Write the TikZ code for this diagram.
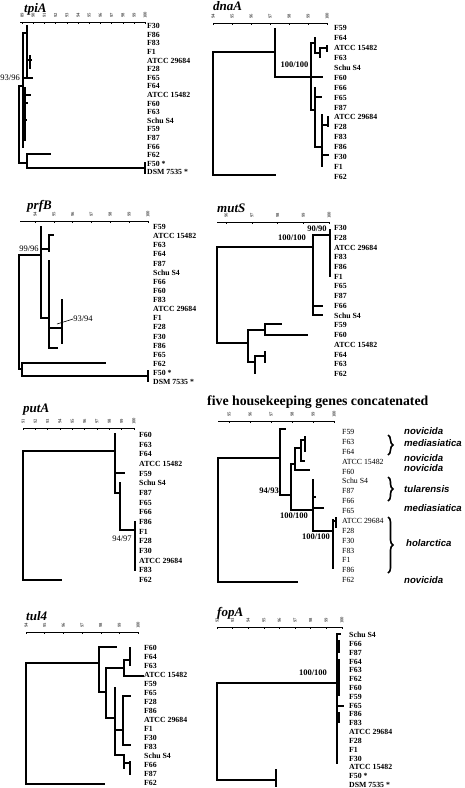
\documentclass[tikz,border=0pt]{standalone}
\usepackage{fontspec}
\setmainfont{Liberation Serif}
\newfontfamily\sansbi{Liberation Sans}
\usetikzlibrary{decorations.pathreplacing}
\tikzset{
 br/.style={line width=1.6pt, line cap=rect},
 pointer/.style={line width=0.6pt},
 leaf/.style={anchor=west, inner sep=0pt, text height=5.2pt, text depth=0pt, font=\fontsize{7.8}{8}\selectfont\bfseries},
 leafr/.style={anchor=west, inner sep=0pt, text height=5.2pt, text depth=0pt, font=\fontsize{7.8}{8}\selectfont},
 supp/.style={inner sep=0pt, font=\fontsize{8.5}{9}\selectfont},
 suppb/.style={inner sep=0pt, font=\fontsize{8.5}{9}\selectfont\bfseries},
 gtitle/.style={anchor=base west, inner sep=0pt, font=\fontsize{13}{14}\selectfont\bfseries\itshape},
 ctitle/.style={anchor=base west, inner sep=0pt, font=\fontsize{13.8}{14}\selectfont\bfseries},
 spec/.style={anchor=west, inner sep=0pt, text height=6.6pt, text depth=0pt, font=\fontsize{9.6}{10}\selectfont\sansbi\bfseries\itshape},
 axl/.style={line width=0.35pt},
 tlab/.style={rotate=90, inner sep=0pt, font=\fontsize{4.6}{5}\selectfont},
 brc/.style={decorate, decoration={brace, amplitude=5pt}, line width=1.6pt},
}
% #1 line start, #2 first label x, #3 step, #4 intervals, #5 y, #6 first value, #7 subdivisions
\newcommand\treeaxis[7]{%
  \draw[axl] (#1,#5) -- ({#2+#3*#4},#5);
  \foreach \i in {0,...,#4}{
    \pgfmathsetmacro\axx{#2+#3*\i}
    \pgfmathtruncatemacro\axv{#6+\i}
    \node[tlab] at (\axx,#5-6.5) {\axv};
    \draw[axl] (\axx,#5) -- (\axx,#5+2);
  }
  \pgfmathtruncatemacro\axn{#4*#7}
  \foreach \j in {0,...,\axn}{
    \pgfmathsetmacro\axx{#2+#3*\j/#7}
    \draw[axl] (\axx,#5) -- (\axx,#5+1.2);
  }
}
% #1 prefix, #2 style, #3 x, #4 y0, #5 dy, #6 list
\newcommand\leafset[6]{%
  \foreach \t [count=\i from 0] in {#6}
    \node[#2] (#1\i) at (#3,{#4+#5*\i}) {\t};
}
\begin{document}
\begin{tikzpicture}[x=1pt,y=-1pt]
\useasboundingbox (0,0) rectangle (464,788);

% ---------------- tpiA
\node[gtitle] (ttpi) at (24,12) {tpiA};
\treeaxis{20}{22}{11.2}{11}{22}{89}{5}
\leafset{tpi}{leaf}{147}{26}{8.6}{F30,F86,F83,F1,ATCC 29684,F28,F65,F64,ATCC 15482,F60,F63,Schu S4,F59,F87,F66,F62,F50 *,DSM 7535 *}
\draw[br] (19,86)--(19,163) (19,86)--(23,86) (23,33)--(23,147) (23,33)--(27,33) (27,26)--(27,78) (23,78)--(32,78)
 (27,60)--(31,60) (30,56)--(30,68) (25,88)--(25,140) (25,95)--(30,95) (24,103)--(27,103) (24,120)--(26,120)
 (19,163)--(27,163) (27,154)--(27,168) (27,154)--(50,154) (27,168)--(145,168) (145,163)--(145,173);
\node[supp, anchor=east] (stpi) at (20,78) {93/96};

% ---------------- dnaA
\node[gtitle] (tdna) at (213,10) {dnaA};
\treeaxis{213}{213}{19}{6}{23}{94}{10}
\leafset{dna}{leaf}{334}{28}{9.93}{F59,F64,ATCC 15482,F63,Schu S4,F60,F66,F65,F87,ATCC 29684,F28,F83,F86,F30,F1,F62}
\draw[br] (213,52)--(213,175) (213,52)--(275,52) (213,175)--(275,175)
 (275,29)--(275,77) (275,77)--(311,77)
 (311,43)--(311,110) (311,43)--(315,43) (315,38)--(315,53) (315,53)--(320,53) (320,49)--(320,57) (320,48)--(327,48) (327,46)--(327,51)
 (311,77)--(322,77)
 (311,110)--(315,110) (315,88)--(315,147) (315,97)--(321,97) (315,147)--(322,147) (322,115)--(322,166) (322,125)--(328,125) (328,117)--(328,126) (322,155)--(328,155);
\node[suppb] (sdna) at (294.5,65) {100/100};

% ---------------- prfB
\node[gtitle] (tprf) at (27,209) {prfB};
\treeaxis{20}{35}{18.8}{6}{221}{94}{10}
\leafset{prf}{leaf}{153}{227}{9.12}{F59,ATCC 15482,F63,F64,F87,Schu S4,F66,F60,F83,ATCC 29684,F1,F28,F30,F86,F65,F62,F50 *,DSM 7535 *}
\draw[br] (19,255)--(19,369) (19,255)--(41,255) (41,227)--(41,318) (41,249)--(49,249) (49,235)--(49,251) (49,235)--(53,235)
 (41,318)--(49,318) (49,261)--(49,348) (49,328)--(62,328) (62,300)--(62,343) (49,348)--(57,348)
 (19,369)--(22,369) (22,363)--(22,376) (22,363)--(105,363) (22,376)--(148,376) (148,371)--(148,381);
\node[supp, anchor=south] (sprf1) at (29,252) {99/96};
\node[supp] (sprf2) at (83,319) {93/94};
\coordinate (pp1) at (57,324);
\draw[pointer] (pp1) -- (sprf2.west);

% ---------------- mutS
\node[gtitle] (tmut) at (217,212) {mutS};
\treeaxis{217}{226}{25.75}{4}{222}{96}{10}
\leafset{mut}{leaf}{334}{228}{9.73}{F30,F28,ATCC 29684,F83,F86,F1,F65,F87,F66,Schu S4,F59,F60,ATCC 15482,F64,F63,F62}
\draw[br] (217,247)--(217,343) (217,247)--(313,247) (313,235)--(313,315) (313,235)--(330,235) (330,230)--(330,276) (313,306)--(322,306) (313,315)--(322,315)
 (217,343)--(248,343) (248,330)--(248,362) (248,330)--(265,330) (265,324)--(265,335) (265,324)--(281,324) (265,335)--(307,335)
 (248,362)--(255,362) (255,356)--(255,373) (255,356)--(265,356) (265,352)--(265,362);
\node[suppb] (smut1) at (292,238) {100/100};
\node[suppb] (smut2) at (317,229) {90/90};

% ---------------- putA
\node[gtitle] (tput) at (23,412) {putA};
\treeaxis{23}{23}{12.33}{9}{428}{91}{5}
\leafset{put}{leaf}{139}{435}{9.67}{F60,F63,F64,ATCC 15482,F59,Schu S4,F87,F65,F66,F86,F1,F28,F30,ATCC 29684,F83,F62}
\draw[br] (23,451)--(23,580) (23,451)--(115,451) (23,580)--(61,580) (115,434)--(115,493) (115,473)--(124,473) (115,493)--(120,493) (120,483)--(120,530) (120,530)--(135,530) (135,522)--(135,570);
\node[supp] (sput) at (122,539) {94/97};

% ---------------- concatenated
\node[ctitle] (tcat) at (207,405.5) {five housekeeping genes concatenated};
\treeaxis{218}{229}{21}{5}{421}{95}{10}
\leafset{cat}{leafr}{342}{432}{9.87}{F59,F63,F64,ATCC 15482,F60,Schu S4,F87,F66,F65,ATCC 29684,F28,F30,F83,F1,F86,F62}
\draw[br] (218,458)--(218,582) (218,458)--(280,458) (218,582)--(297,582)
 (280,429)--(280,495) (280,429)--(285,429) (280,495)--(291,495)
 (291,464)--(291,510) (291,464)--(295,464) (295,448)--(295,470) (295,470)--(309,470) (295,448)--(301,448) (301,440)--(301,461) (301,461)--(304,461) (301,440)--(305,440) (305,437)--(305,451)
 (291,510)--(313,510) (313,480)--(313,531) (313,508)--(323,508) (313,497)--(315,497) (313,531)--(333,531) (333,520)--(333,568) (333,521)--(336,521) (336,518)--(336,527);
\node[suppb, anchor=east] (scat1) at (279,491) {94/93};
\node[suppb, anchor=north] (scat2) at (294,513) {100/100};
\node[suppb, anchor=north] (scat3) at (316,534) {100/100};
\node[spec] (sp1) at (404,431) {novicida};
\node[spec] (sp2) at (404,443) {mediasiatica};
\node[spec] (sp3) at (404,458) {novicida};
\node[spec] (sp4) at (404,468) {novicida};
\node[spec] (sp5) at (404,489) {tularensis};
\node[spec] (sp6) at (404,508) {mediasiatica};
\node[spec] (sp7) at (406,543) {holarctica};
\node[spec] (sp8) at (404,580) {novicida};
\draw[brc] (388,435) -- (388,455);
\draw[brc] (388,477) -- (388,501);
\draw[brc] (388,517) -- (388,573);

% ---------------- tul4
\node[gtitle] (ttul) at (26,620) {tul4};
\treeaxis{26}{26}{18.67}{6}{632}{94}{10}
\leafset{tul}{leaf}{144}{648}{9}{F60,F64,F63,ATCC 15482,F59,F65,F28,F86,ATCC 29684,F1,F30,F83,Schu S4,F66,F87,F62}
\draw[br] (26,663)--(26,784) (26,663)--(99,663) (26,784)--(104,784)
 (99,647)--(99,692) (99,647)--(116,647) (99,692)--(106,692) (106,668)--(106,718) (106,668)--(124,668) (124,660)--(124,676) (124,660)--(130,660) (130,648)--(130,665) (124,676)--(143,676)
 (106,718)--(115,718) (115,688)--(115,755) (115,730)--(123,730) (123,696)--(123,745) (123,696)--(130,696) (123,745)--(130,745)
 (115,755)--(124,755) (124,755)--(124,768) (124,763)--(130,763) (130,762)--(130,774);

% ---------------- fopA
\node[gtitle] (tfop) at (217,616) {fopA};
\treeaxis{217}{217}{15.6}{8}{627}{92}{5}
\leafset{fop}{leaf}{349}{635}{8.82}{Schu S4,F66,F87,F64,F63,F62,F60,F59,F65,F86,F83,ATCC 29684,F28,F1,F30,ATCC 15482,F50 *,DSM 7535 *}
\draw[br] (217,683)--(217,780) (217,683)--(337,683) (217,780)--(276,780) (276,770)--(276,786)
 (337,634)--(337,763) (337,634)--(340,634) (339,641)--(339,652) (339,660)--(339,695) (337,706)--(343,706) (339,713)--(339,722);
\node[suppb] (sfop) at (313,673) {100/100};
\end{tikzpicture}
\end{document}
